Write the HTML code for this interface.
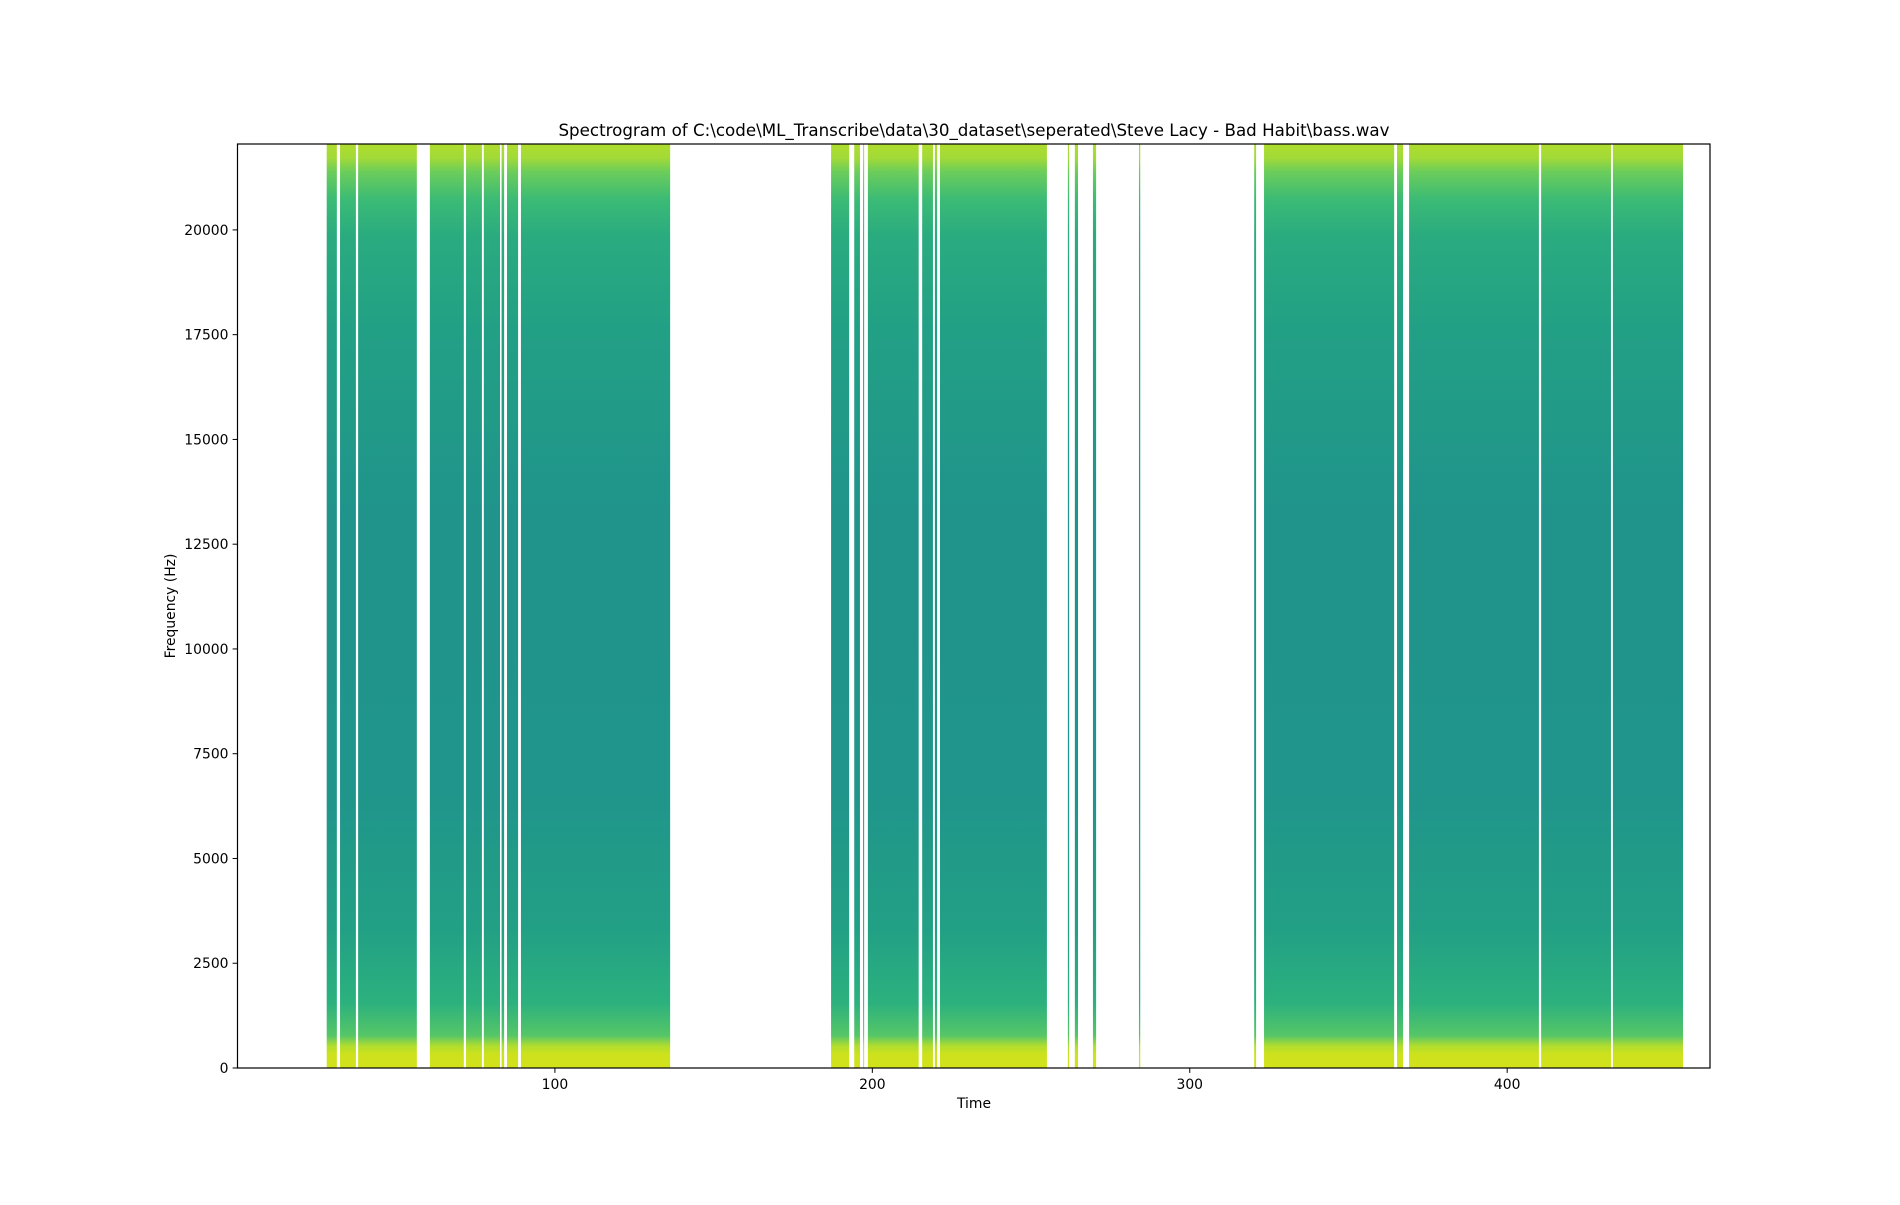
<!DOCTYPE html>
<html><head><meta charset="utf-8"><style>
body{margin:0;background:#fff;}
svg text{font-family:"DejaVu Sans","Liberation Sans",sans-serif;fill:#000;}
</style></head><body>
<svg id="chart" width="1900" height="1200" viewBox="0 0 1900 1200" xmlns="http://www.w3.org/2000/svg">
<defs>
<linearGradient id="vir" x1="0" y1="0" x2="0" y2="1">
<stop offset="0" stop-color="#b0dd2f"/>
<stop offset="0.015" stop-color="#a2da37"/>
<stop offset="0.03" stop-color="#6ccd5a"/>
<stop offset="0.06" stop-color="#3bbb75"/>
<stop offset="0.1" stop-color="#2aab7f"/>
<stop offset="0.2" stop-color="#22a085"/>
<stop offset="0.4" stop-color="#20948b"/>
<stop offset="0.7" stop-color="#20958b"/>
<stop offset="0.85" stop-color="#22a085"/>
<stop offset="0.93" stop-color="#2cb17e"/>
<stop offset="0.965" stop-color="#56c667"/>
<stop offset="0.976" stop-color="#b0dd2f"/>
<stop offset="0.985" stop-color="#cde11d"/>
<stop offset="1" stop-color="#d2e21b"/>
</linearGradient>
</defs>
<g id="marks"></g>
<rect x="237.5" y="144" width="1472.5" height="924" fill="none" stroke="#000" stroke-width="1.2"/>
<g id="xaxis"></g>
<g id="yaxis"></g>
<text x="974" y="136" font-size="16.7" text-anchor="middle">Spectrogram of C:\code\ML_Transcribe\data\30_dataset\seperated\Steve Lacy - Bad Habit\bass.wav</text>
<text x="974" y="1108" font-size="13.9" text-anchor="middle">Time</text>
<text transform="translate(175,606) rotate(-90)" font-size="13.9" text-anchor="middle">Frequency (Hz)</text>
</svg>
<script>
const segStarts = [28.1, 32.3, 38.0, 60.6, 72.0, 77.6, 83.2, 84.9, 89.3, 187.0, 194.3, 197.1, 198.6, 215.7, 219.7, 221.3, 261.6, 263.8, 269.5, 284.0, 320.3, 323.4, 365.3, 369.1, 410.7, 433.3];
const segEnds   = [31.3, 37.3, 56.5, 71.3, 77.0, 82.7, 84.0, 88.4, 136.3, 192.7, 196.1, 197.3, 214.6, 219.1, 220.4, 255.0, 262.0, 264.8, 270.5, 284.4, 320.9, 364.4, 367.2, 410.0, 432.7, 455.4];
const xTicks = [100, 200, 300, 400];
const yTicks = [0, 2500, 5000, 7500, 10000, 12500, 15000, 17500, 20000];
const xMin = 0, xMax = 463.9, yMin = 0, yMax = 22050;
const L = 237.5, R = 1710, T = 144, B = 1068;
const NS = 'http://www.w3.org/2000/svg';
function xs(v){return L + (v - xMin) / (xMax - xMin) * (R - L);}
function ys(v){return B - (v - yMin) / (yMax - yMin) * (B - T);}
const marks = document.getElementById('marks');
segStarts.forEach((s, i) => {
  const r = document.createElementNS(NS, 'rect');
  
  
  const x0 = xs(s), x1 = xs(segEnds[i]);
  r.setAttribute('x', x0);
  r.setAttribute('y', ys(yMax));
  r.setAttribute('width', Math.max(1, x1 - x0));
  r.setAttribute('height', ys(yMin) - ys(yMax));
  r.setAttribute('fill', 'url(#vir)');
  marks.appendChild(r);
});
const xa = document.getElementById('xaxis');
xTicks.forEach(v => {
  const x = xs(v);
  const l = document.createElementNS(NS, 'line');
  
  
  l.setAttribute('x1', x); l.setAttribute('x2', x);
  l.setAttribute('y1', B); l.setAttribute('y2', B + 4.9);
  l.setAttribute('stroke', '#000'); l.setAttribute('stroke-width', '1');
  xa.appendChild(l);
  const t = document.createElementNS(NS, 'text');
  
  
  t.setAttribute('x', x); t.setAttribute('y', B + 21);
  t.setAttribute('font-size', '13.9'); t.setAttribute('text-anchor', 'middle');
  t.textContent = v;
  xa.appendChild(t);
});
const ya = document.getElementById('yaxis');
yTicks.forEach(v => {
  const y = ys(v);
  const l = document.createElementNS(NS, 'line');
  
  
  l.setAttribute('x1', L - 4.9); l.setAttribute('x2', L);
  l.setAttribute('y1', y); l.setAttribute('y2', y);
  l.setAttribute('stroke', '#000'); l.setAttribute('stroke-width', '1');
  ya.appendChild(l);
  const t = document.createElementNS(NS, 'text');
  
  
  t.setAttribute('x', L - 9); t.setAttribute('y', y + 5);
  t.setAttribute('font-size', '13.9'); t.setAttribute('text-anchor', 'end');
  t.textContent = v;
  ya.appendChild(t);
});
</script>
</body></html>
